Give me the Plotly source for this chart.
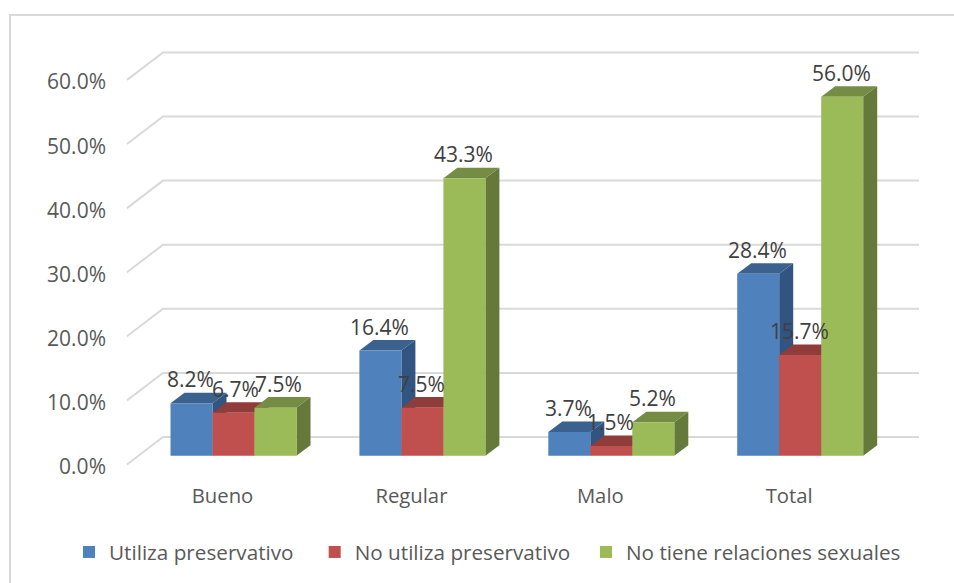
import plotly.graph_objects as go

categories = ["Bueno", "Regular", "Malo", "Total"]
series_names = ["Utiliza preservativo", "No utiliza preservativo", "No tiene relaciones sexuales"]
utiliza = [8.2, 16.4, 3.7, 28.4]
no_utiliza = [6.7, 7.5, 1.5, 15.7]
no_tiene = [7.5, 43.3, 5.2, 56.0]
axis_ticks = [0, 10, 20, 30, 40, 50, 60]

W, H = 954, 583
# plot-area frame in pixels
L, R, T, B = 120, 925, 30, 472
Y0_PX = 455.7
PX_PER_Y = 6.41
PX_PER_X = 188.9
X0_PX = 233.5

x_range = [(L - X0_PX) / PX_PER_X, (R - X0_PX) / PX_PER_X]
y_range = [(Y0_PX - B) / PX_PER_Y, (Y0_PX - T) / PX_PER_Y]

BAR_W = 42 / PX_PER_X
BAR_DX = 14 / PX_PER_X
BAR_DY = 10.5 / PX_PER_Y
GRID_FRONT_X = (127 - X0_PX) / PX_PER_X
GRID_BACK_X = (163 - X0_PX) / PX_PER_X
GRID_END_X = (919 - X0_PX) / PX_PER_X
GRID_BACK_Y = (Y0_PX - 437) / PX_PER_Y
GRID_FRONT_Y = (Y0_PX - 464.5) / PX_PER_Y
LABEL_SHIFT_X = -11 / PX_PER_X

front = ["#4F81BD", "#C0504D", "#9BBB59"]
top_c = ["#3B618E", "#903C3A", "#748C43"]
side_c = ["#325480", "#7A3331", "#65793A"]
series = [utiliza, no_utiliza, no_tiene]
x_pos = list(range(len(categories)))
legend_pad = ["\u00a0\u00a0\u00a0", "\u00a0\u00a0", ""]
# (series, category) -> extra horizontal label nudge in px
label_nudge = {(1, 0): 2.5, (2, 0): 4}


def px_x(p):
    return (p - L) / (R - L)


def px_y(p):
    return (B - p) / (B - T)


shapes = [
    dict(type="path", xref="paper", yref="paper",
         path="M %f,%f L %f,%f L %f,%f" % (px_x(10), px_y(583), px_x(10), px_y(15), px_x(954), px_y(15)),
         line=dict(color="#D9D9D9", width=2), layer="below"),
]
for t in axis_ticks:
    shapes.append(dict(
        type="path", xref="x", yref="y", layer="below",
        path="M %f,%f L %f,%f L %f,%f" % (GRID_FRONT_X, t + GRID_FRONT_Y, GRID_BACK_X, t + GRID_BACK_Y,
                                          GRID_END_X, t + GRID_BACK_Y),
        line=dict(color="#D9D9D9", width=2)))

for i in range(3):
    for xc, v in zip(x_pos, series[i]):
        x1 = xc + (i - 1.5) * BAR_W
        x2 = x1 + BAR_W
        shapes.append(dict(
            type="path", xref="x", yref="y", layer="below", line=dict(width=0), fillcolor=side_c[i],
            path="M %f,0 L %f,%f L %f,%f L %f,%f Z" % (x2, x2 + BAR_DX, BAR_DY, x2 + BAR_DX, v + BAR_DY, x2, v)))
        shapes.append(dict(
            type="path", xref="x", yref="y", layer="below", line=dict(width=0), fillcolor=top_c[i],
            path="M %f,%f L %f,%f L %f,%f L %f,%f Z" % (x1, v, x1 + BAR_DX, v + BAR_DY, x2 + BAR_DX, v + BAR_DY, x2, v)))

fig = go.Figure()
for i in range(3):
    fig.add_trace(go.Bar(x=x_pos, y=series[i], name=series_names[i] + legend_pad[i],
                         marker=dict(color=front[i], line=dict(width=0))))

annotations = []
for i in range(3):
    for xc, v in zip(x_pos, series[i]):
        annotations.append(dict(
            x=xc + (i - 1) * BAR_W, y=v, xref="x", yref="y", text="%.1f%%" % v, showarrow=False,
            yshift=24, xshift=-1 + label_nudge.get((i, xc), 0), font=dict(size=21, color="#404040")))

fig.update_layout(
    width=W, height=H, autosize=False,
    margin=dict(l=L, r=W - R, t=T, b=H - B, pad=0, autoexpand=False),
    paper_bgcolor="white", plot_bgcolor="white",
    font=dict(family="Open Sans", size=21, color="#595959"),
    barmode="group", bargap=1 - 3 * BAR_W, bargroupgap=0,
    shapes=shapes, annotations=annotations, showlegend=True,
    legend=dict(orientation="h", x=px_x(69), xanchor="left", y=px_y(532), yanchor="top",
                font=dict(size=20.7, color="#595959"), itemwidth=30),
    xaxis=dict(range=x_range, tickvals=[x + LABEL_SHIFT_X for x in x_pos], ticktext=categories, showgrid=False,
               zeroline=False, showline=False, ticks="", ticklabelstandoff=10, automargin=False,
               tickfont=dict(size=20.3)),
    yaxis=dict(range=y_range, tickvals=[t + GRID_FRONT_Y - 0.35 for t in axis_ticks],
               ticktext=["%.1f%%" % t for t in axis_ticks], showgrid=False, zeroline=False,
               showline=False, ticks="", ticklabelstandoff=13, automargin=False),
)
fig.write_html("out.html", config=dict(displayModeBar=False), post_script="document.body.style.margin='0';")
